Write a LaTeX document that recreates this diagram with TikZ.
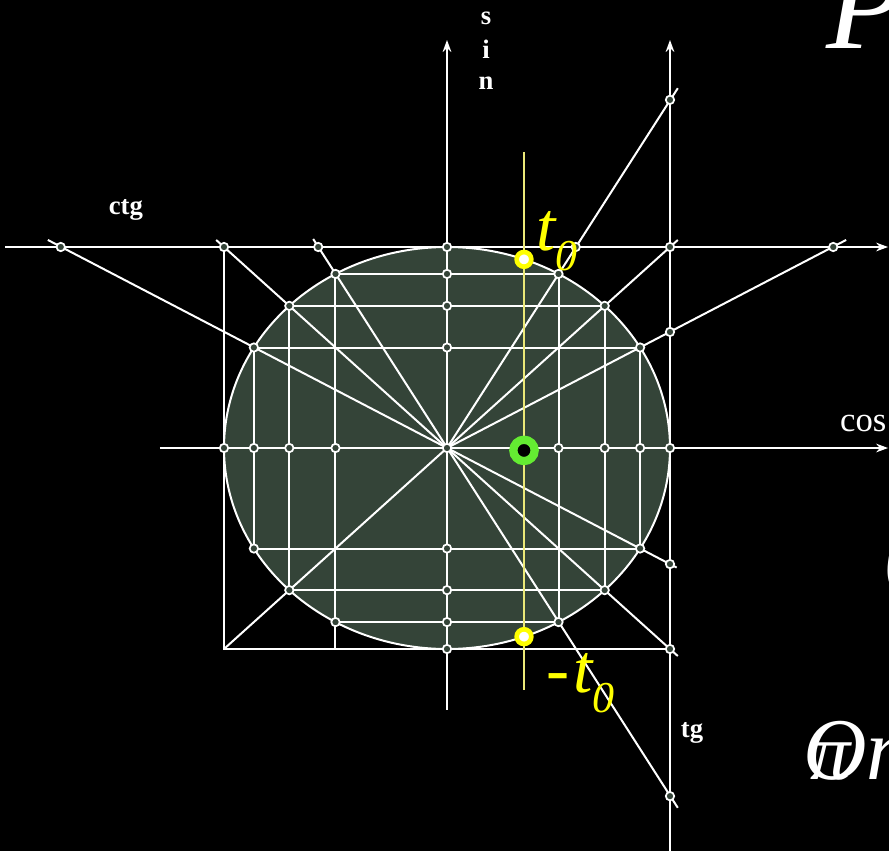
\documentclass[tikz,border=0pt]{standalone}
\usepackage{fontspec}
\setmainfont{Liberation Serif}
\usetikzlibrary{arrows.meta,calc}
\definecolor{disk}{RGB}{52,68,56}
\definecolor{paleyel}{RGB}{235,232,120}
\definecolor{mkgreen}{RGB}{100,235,50}
\definecolor{txtyel}{RGB}{255,255,0}
\begin{document}
\begin{tikzpicture}[x=167.25pt,y=150.75pt,
  ln/.style={white,line width=1.5pt},
  ax/.style={white,line width=1.5pt,-{Stealth[length=9pt,width=6.5pt,inset=3pt]}},
  dot/.style={circle,draw=white,fill=disk,line width=1.3pt,minimum size=6.3pt,inner sep=0pt},
  ydot/.style={circle,draw=txtyel,fill=white,line width=3.5pt,minimum size=11pt,inner sep=0pt},
  gdot/.style={circle,draw=mkgreen,fill=black,line width=6.2pt,minimum size=16pt,inner sep=0pt},
  lab/.style={text=white,font=\fontsize{20}{20}\selectfont\bfseries,inner sep=0pt},
  big/.style={anchor=base west,text=white,inner sep=0pt},
  ylab/.style={anchor=base west,text=txtyel,inner sep=0pt}
  ]
\fill[black] (-2.00448,-2.00498) rectangle (1.98206,2.22886);
\useasboundingbox (-2.00448,-2.00498) rectangle (1.98206,2.22886);

% named points
\coordinate (O) at (0,0);
\foreach \a in {30,45,60,120,135,150,210,225,240,300,315,330}
  \coordinate (c\a) at ({cos(\a)},{sin(\a)});
\coordinate (e150) at (-1.79,1.035);
\coordinate (e330) at (1.03,-0.595);
\coordinate (e135) at (-1.035,1.035);
\coordinate (e315) at (1.035,-1.035);
\coordinate (e120) at (-0.6,1.04);
\coordinate (e300) at (1.035,-1.79);
\coordinate (e45) at (1.035,1.035);
\coordinate (e30) at (1.79,1.035);
\coordinate (e60) at (1.035,1.79);
\coordinate (cornerBL) at (-1,-1);
\coordinate (cornerTL) at (-1,1);
\coordinate (cornerBR) at (1,-1);
\coordinate (b120) at ({cos(120)},-1);
\coordinate (cosL) at (-1.287,0);
\coordinate (cosR) at (1.978,0);
\coordinate (sinB) at (0,-1.303);
\coordinate (sinT) at (0,2.03);
\coordinate (tgB) at (1,-2.01);
\coordinate (tgT) at (1,2.03);
\coordinate (ctgL) at (-1.982,1);
\coordinate (ctgR) at (1.978,1);
\coordinate (yT) at (0.3453,1.473);
\coordinate (yB) at (0.3453,-1.204);

% disk
\fill[disk] (O) ellipse (1 and 1);

% chords
\draw[ln] (c150) -- (c30);
\draw[ln] (c135) -- (c45);
\draw[ln] (c120) -- (c60);
\draw[ln] (c210) -- (c330);
\draw[ln] (c225) -- (c315);
\draw[ln] (c240) -- (c300);
\draw[ln] (c150) -- (c210);
\draw[ln] (c135) -- (c225);
\draw[ln] (c120) -- (b120);
\draw[ln] (c60) -- (c300);
\draw[ln] (c45) -- (c315);
\draw[ln] (c30) -- (c330);

% frame
\draw[ln] (cornerTL) -- (cornerBL) -- (cornerBR);

% radial lines
\draw[ln] (e150) -- (e330);
\draw[ln] (e135) -- (e315);
\draw[ln] (e120) -- (e300);
\draw[ln] (cornerBL) -- (e45);
\draw[ln] (O) -- (e30);
\draw[ln] (O) -- (e60);

% axes
\draw[ax] (cosL) -- (cosR);
\draw[ax] (sinB) -- (sinT);
\draw[ax] (tgB) -- (tgT);
\draw[ax] (ctgL) -- (ctgR);

% circle outline
\draw[white,line width=1.5pt] (O) ellipse (1 and 1);

% yellow line
\draw[paleyel,line width=1.4pt] (yT) -- (yB);

% dots on circle
\foreach \a in {30,45,60,120,135,150,210,225,240,300,315,330}
  \node[dot] (d\a) at (c\a) {};
% dots on sin axis
\foreach \v/\n in {1/s90,0.8660/s60,0.7071/s45,0.5/s30,0/s0,-0.5/sm30,-0.7071/sm45,-0.8660/sm60,-1/sm90}
  \node[dot] (\n) at (0,\v) {};
% dots on cos axis
\foreach \v/\n in {-1/k180,-0.8660/k150,-0.7071/k135,-0.5/k120,0.5/k60,0.7071/k45,0.8660/k30,1/k0}
  \node[dot] (\n) at (\v,0) {};
% dots on ctg line
\foreach \v/\n in {-1.7321/q150,-1/q135,-0.5774/q120,0.5774/q60,1/q45,1.7321/q30}
  \node[dot] (\n) at (\v,1) {};
% dots on tg line
\foreach \v/\n in {1.7321/t60,0.5774/t30,-0.5774/t330,-1/t315,-1.7321/t300}
  \node[dot] (\n) at (1,\v) {};

% markers
\node[ydot] (yp) at (0.3453,0.9385) {};
\node[ydot] (ym) at (0.3453,-0.9385) {};
\node[gdot] (gm) at (0.3453,-0.012) {};

% labels
\node[lab] (ls) at (0.175,2.139) {s};
\node[lab] (li) at (0.175,1.985) {i};
\node[lab] (lnn) at (0.175,1.816) {n};
\node[lab] (lctg) at (-1.44,1.184) {ctg};
\node[lab] (ltg) at (1.099,-1.418) {tg};
\node[big,font=\fontsize{26}{26}\selectfont] (lcos) at (1.762,0.080) {cos};

\node[ylab] (tz) at (0.399,0.985)
  {\fontsize{52}{52}\selectfont\itshape t\raisebox{-15pt}{\fontsize{33}{33}\selectfont 0}};
\node[ylab] (mtz) at (0.444,-1.214)
  {\fontsize{52}{52}\selectfont\itshape -\hspace{3pt}t\raisebox{-15.5pt}{\fontsize{33}{33}\selectfont 0}};

% fragments of large text at the right edge
\node[big,font=\fontsize{95}{95}\selectfont\itshape] (bigP) at (1.70,1.99) {P};
\node[big,font=\fontsize{75}{75}\selectfont\itshape] (bigpar) at (1.962,-0.662) {(};
\node[big,font=\fontsize{66}{66}\selectfont\itshape] (bigO) at (1.596,-1.65) {On};
\node[big,font=\fontsize{60}{60}\selectfont\itshape] (bigpi) at (1.63,-1.65) {π};
\end{tikzpicture}
\end{document}
